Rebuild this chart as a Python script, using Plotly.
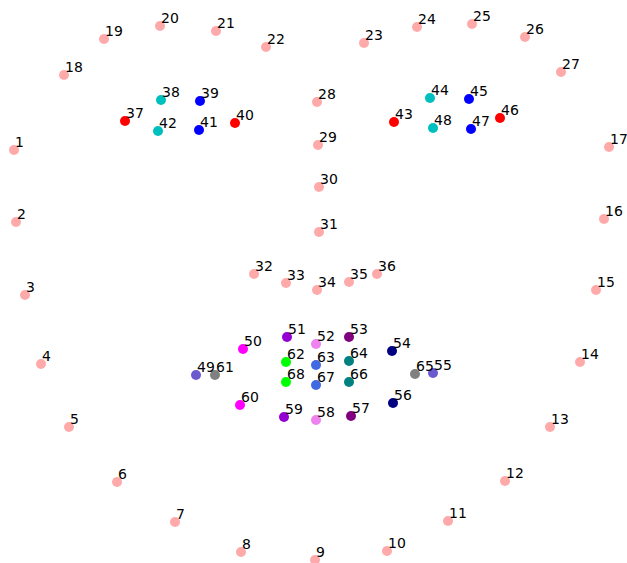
import plotly.graph_objects as go

# Landmark coordinates (image coordinates, y downward), points 1..68
xs = [14, 16, 25, 41, 69, 117, 175, 241, 315, 387, 448, 505, 550, 580, 596, 604, 609,
      64, 104, 160, 216, 266, 364, 417, 472, 525, 561,
      317, 318, 319, 319, 254, 286, 317, 349, 377,
      125, 161, 200, 235, 199, 158,
      394, 430, 469, 500, 471, 433,
      196, 243, 287, 316, 349, 392, 433, 393, 351, 316, 284, 240,
      215, 286, 316, 349, 415, 349, 316, 286]
ys = [150, 222, 295, 364, 427, 482, 522, 552, 560, 551, 521, 481, 427, 362, 290, 219, 147,
      75, 39, 26, 31, 47, 43, 27, 24, 37, 72,
      102, 145, 187, 232, 274, 283, 290, 282, 274,
      121, 100, 101, 123, 130, 131,
      122, 98, 99, 118, 129, 128,
      375, 349, 337, 344, 337, 351, 373, 403, 416, 420, 417, 405,
      375, 362, 365, 361, 374, 382, 385, 382]
labels = [str(i) for i in range(1, 69)]

# colour per point group
pink = "#FFAAAA"
colors = [pink] * 36
colors += ["red", "#00BFBF", "blue", "red", "blue", "#00BFBF"]
colors += ["red", "#00BFBF", "blue", "red", "blue", "#00BFBF"]
mouth = {49: "slateblue", 55: "slateblue", 61: "gray", 65: "gray",
         50: "magenta", 60: "magenta", 51: "darkviolet", 59: "darkviolet",
         52: "violet", 58: "violet", 53: "purple", 57: "purple",
         54: "navy", 56: "navy", 62: "lime", 68: "lime",
         63: "royalblue", 67: "royalblue", 64: "teal", 66: "teal"}
colors += [mouth[i] for i in range(49, 69)]

fig = go.Figure()
fig.add_trace(go.Scatter(
    x=xs, y=ys, mode="markers",
    marker=dict(size=10, color=colors, line=dict(width=0)),
    cliponaxis=False,
    hoverinfo="skip"))
for x, y, t in zip(xs, ys, labels):
    fig.add_annotation(x=x, y=y, text=t, showarrow=False,
                       xanchor="left", yanchor="bottom", xshift=0, yshift=-1,
                       borderpad=0,
                       font=dict(family="DejaVu Sans", size=14, color="black"))

fig.update_layout(
    width=627, height=563,
    margin=dict(l=0, r=0, t=0, b=0),
    paper_bgcolor="white", plot_bgcolor="white",
    showlegend=False,
    xaxis=dict(range=[0, 627], visible=False),
    yaxis=dict(range=[563, 0], visible=False),
)
fig.write_html("out.html",
               config={"displayModeBar": False},
               post_script="document.body.style.margin='0';document.body.style.overflow='hidden';")
